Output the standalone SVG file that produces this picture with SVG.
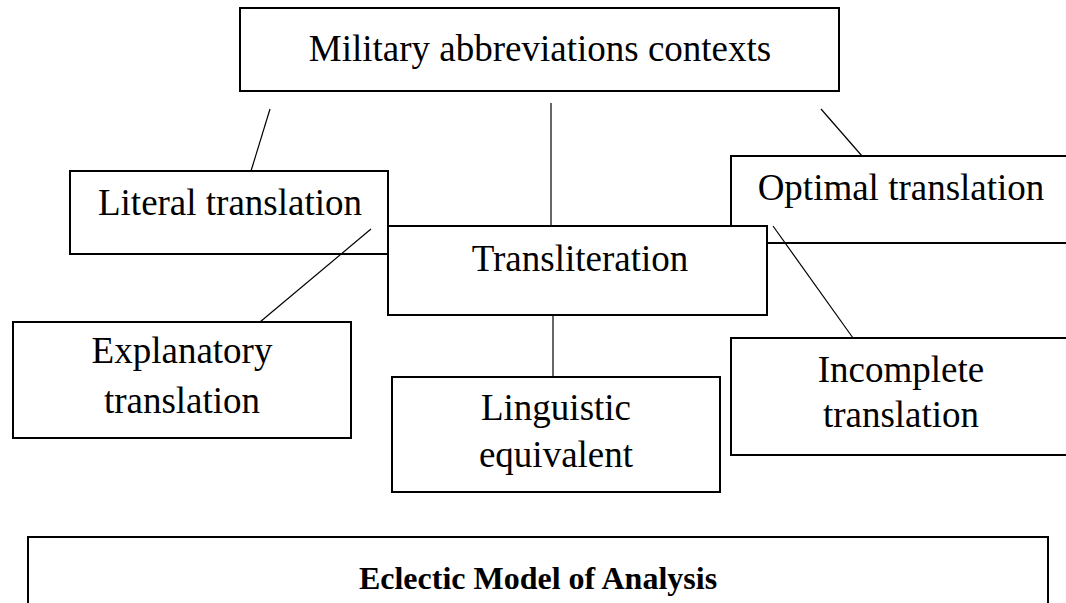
<svg xmlns="http://www.w3.org/2000/svg" width="1066" height="603" viewBox="0 0 1066 603">
<style>
.box{fill:#fff;stroke:#000;stroke-width:2}
.t{font-family:"Liberation Serif","Times New Roman",serif;font-size:37px;fill:#000;text-anchor:middle}
.b{font-family:"Liberation Serif","Times New Roman",serif;font-size:32px;font-weight:bold;fill:#000;text-anchor:middle}
.c{stroke:#000;stroke-width:1.2;fill:none}
</style>
<rect width="1066" height="603" fill="#fff"/>
<g id="top"><rect class="box" x="240" y="8" width="599" height="83"/><text class="t" x="540" y="61">Military abbreviations contexts</text></g>
<g id="literal"><rect class="box" x="70" y="171" width="318" height="83"/><text class="t" x="230" y="215">Literal translation</text></g>
<g id="optimal"><rect class="box" x="731" y="156" width="341" height="87"/><text class="t" x="901" y="200">Optimal translation</text></g>
<g id="transliteration"><rect class="box" x="388" y="226" width="379" height="89"/><text class="t" x="580" y="271">Transliteration</text></g>
<g id="explanatory"><rect class="box" x="13" y="322" width="338" height="116"/><text class="t" x="182" y="363">Explanatory</text><text class="t" x="182" y="413">translation</text></g>
<g id="linguistic"><rect class="box" x="392" y="377" width="328" height="115"/><text class="t" x="556" y="420">Linguistic</text><text class="t" x="556" y="467">equivalent</text></g>
<g id="incomplete"><rect class="box" x="731" y="338" width="341" height="117"/><text class="t" x="901" y="382">Incomplete</text><text class="t" x="901" y="427">translation</text></g>
<g id="eclectic"><rect class="box" x="28" y="537" width="1020" height="80"/><text class="b" x="538" y="589">Eclectic Model of Analysis</text></g>
<g id="connectors">
<line class="c" x1="270" y1="109" x2="251" y2="171"/>
<line class="c" x1="551" y1="103" x2="551" y2="226"/>
<line class="c" x1="821" y1="109" x2="862" y2="156"/>
<line class="c" x1="371" y1="229" x2="260" y2="322"/>
<line class="c" x1="773" y1="226" x2="853" y2="338"/>
<line class="c" x1="553" y1="315" x2="553" y2="377"/>
</g>
</svg>
